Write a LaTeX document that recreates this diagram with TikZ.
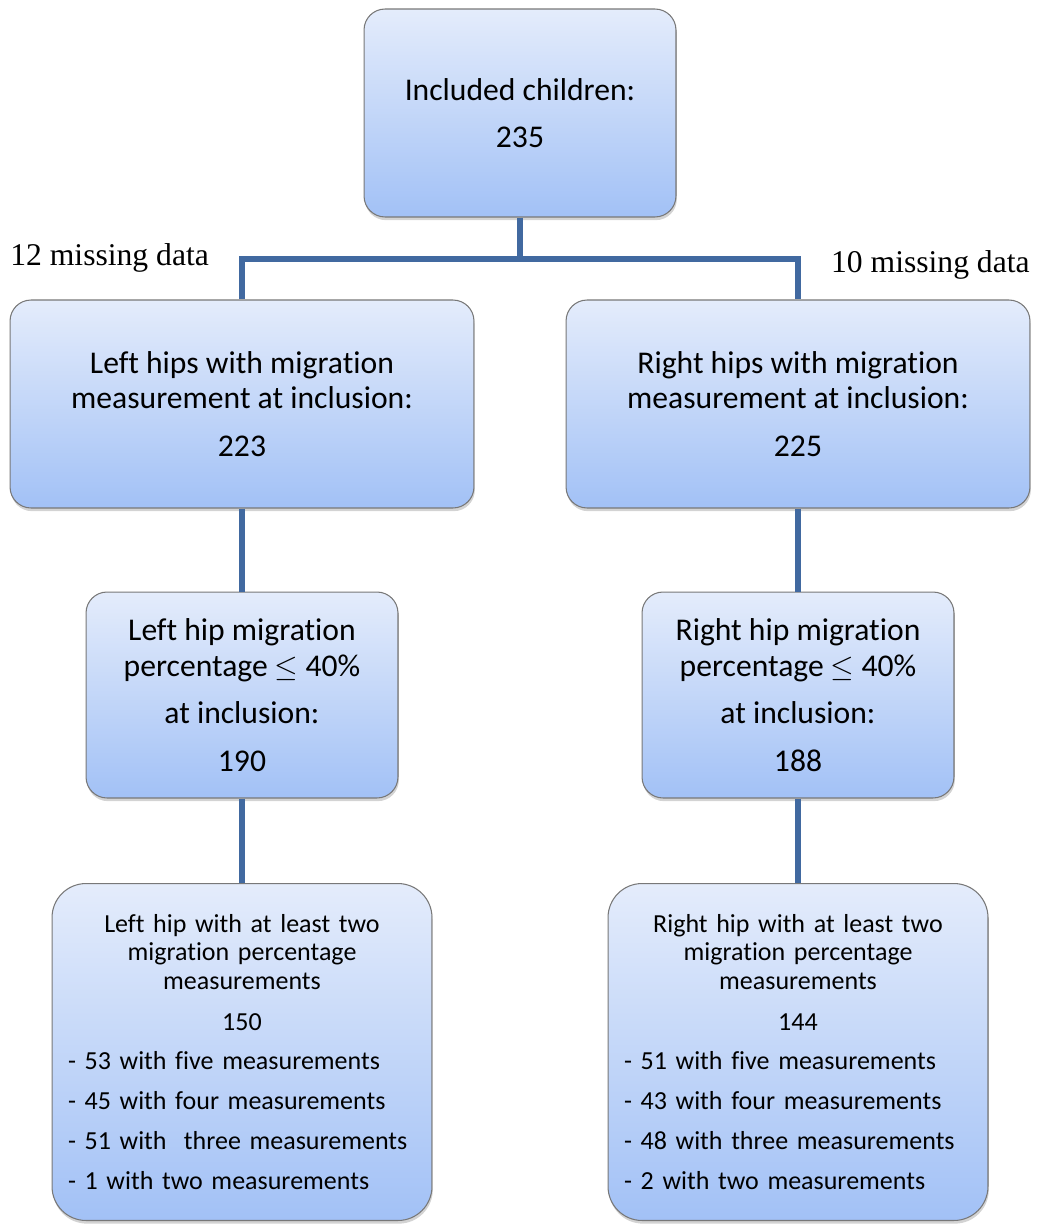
\documentclass[tikz,border=0pt]{standalone}
\usepackage{fontspec}
\setmainfont{Carlito}[Ligatures=NoCommon]
\newfontfamily\timesfont{Liberation Serif}
\usetikzlibrary{shadows}
\setlength{\parindent}{0pt}

\definecolor{boxtop}{RGB}{228,236,251}
\definecolor{boxbottom}{RGB}{162,193,246}
\definecolor{boxline}{RGB}{120,120,120}
\definecolor{linkblue}{RGB}{65,105,160}

\tikzset{
  hipbox/.style={draw=boxline, line width=0.6pt, rounded corners=0.42cm,
    top color=boxtop, bottom color=boxbottom,
    drop shadow={opacity=0.35, shadow xshift=0.5pt, shadow yshift=-1.8pt},
    align=center, font=\fontsize{18}{20.4}\selectfont},
  listbox/.style={hipbox, rounded corners=0.68cm, align=left,
    font=\fontsize{14.8}{16.2}\selectfont, text width=6.96cm,
    inner xsep=0.32cm, minimum height=6.74cm},
  link/.style={draw=linkblue, line width=2.9pt},
  missing/.style={font=\timesfont\fontsize{18}{21}\selectfont, inner sep=0pt}
}

\begin{document}
\begin{tikzpicture}[x=0.02cm, y=-0.02cm]
    \useasboundingbox (0,0) rectangle (1039,1227);

    \node[hipbox, minimum width=6.24cm, minimum height=4.16cm] (incl) at (520,113)
      {Included children:\\[6.2pt] 235};

    \node[hipbox, minimum width=9.28cm, minimum height=4.16cm] (lefthips) at (242,404)
      {Left hips with migration\\ measurement at inclusion:\\[6.8pt] 223};
    \node[hipbox, minimum width=9.28cm, minimum height=4.16cm] (righthips) at (798,404)
      {Right hips with migration\\ measurement at inclusion:\\[6.8pt] 225};

    \node[hipbox, minimum width=6.24cm, minimum height=4.12cm] (leftpct) at (242,695)
      {Left hip migration\\ percentage $\leq$ 40\%\\[6.5pt] at inclusion:\\[6.5pt] 190};
    \node[hipbox, minimum width=6.24cm, minimum height=4.12cm] (rightpct) at (798,695)
      {Right hip migration\\ percentage $\leq$ 40\%\\[6.5pt] at inclusion:\\[6.5pt] 188};

    \node[listbox] (lefttwo) at (242,1052)
      {\centering Left hip with at least two\\ migration percentage\\ measurements\\[7pt] 150\par
       \vspace{6.5pt}\raggedright
       - 53 with five measurements\\[6.5pt]
       - 45 with four measurements\\[6.5pt]
       - 51 with~ three measurements\\[6.5pt]
       - 1 with two measurements};
    \node[listbox] (righttwo) at (798,1052)
      {\centering Right hip with at least two\\ migration percentage\\ measurements\\[7pt] 144\par
       \vspace{6.5pt}\raggedright
       - 51 with five measurements\\[6.5pt]
       - 43 with four measurements\\[6.5pt]
       - 48 with three measurements\\[6.5pt]
       - 2 with two measurements};

    \node[missing, anchor=base west] (leftmiss) at (10,265) {12 missing data};
    \node[missing, anchor=base east] (rightmiss) at (1030,272) {10 missing data};

    \coordinate (split) at (520,259);
    \draw[link] (incl) -- (split);
    \draw[link] (lefthips.north) |- (split) -| (righthips.north);
    \draw[link] (lefthips) -- (leftpct);
    \draw[link] (righthips) -- (rightpct);
    \draw[link] (leftpct) -- (lefttwo);
    \draw[link] (rightpct) -- (righttwo);
\end{tikzpicture}
\end{document}
